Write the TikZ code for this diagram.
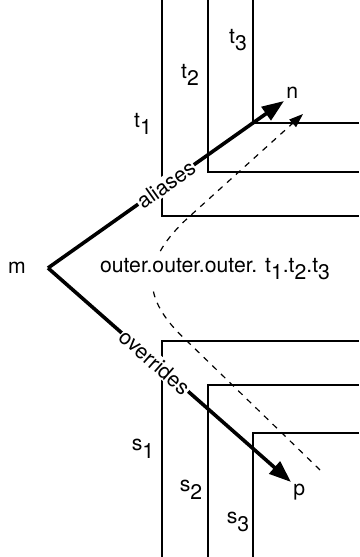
\documentclass[tikz,border=0pt]{standalone}
\usepackage{fontspec}
\setmainfont{TeX Gyre Heros}
\usepackage{tikz}
\usetikzlibrary{positioning}
\usetikzlibrary{arrows.meta}
\newcommand{\lowsub}[1]{\raisebox{-0.7ex}{#1}}

\begin{document}
\begin{tikzpicture}[x=0.5pt,y=0.5pt,font=\fontsize{10.6}{12.5}\selectfont]
            \useasboundingbox (0,0) rectangle (359,557);
            % nested scopes t_1, t_2, t_3
            \draw[line width=0.8pt] (162,557) |- (359,341);
            \draw[line width=0.8pt] (208,557) |- (359,385);
            \draw[line width=0.8pt] (253,557) |- (359,434);
            % nested scopes s_1, s_2, s_3
            \draw[line width=0.8pt] (162,0) |- (359,216);
            \draw[line width=0.8pt] (208,0) |- (359,172);
            \draw[line width=0.8pt] (253,0) |- (359,124);
            \node (t1) at (143,433) {t\lowsub{1}};
            \node (t2) at (190,482) {t\lowsub{2}};
            \node (t3) at (238,517) {t\lowsub{3}};
            \node (s1) at (143,108) {s\lowsub{1}};
            \node (s2) at (191,67) {s\lowsub{2}};
            \node (s3) at (238,35) {s\lowsub{3}};
            % lookup path
            \coordinate (d0) at (320,87);
            \coordinate (d1) at (303,443);
            \draw[dashed, line width=0.6pt, -{Triangle[length=7pt,width=5pt]}] (d0) -- (187,216) .. controls (140,259) and (140,296) .. (190,341) -- (d1);
            \node[fill=white, inner xsep=1pt, inner ysep=3pt] (path) at (215,288) {outer.outer.outer. t\lowsub{1}.t\lowsub{2}.t\lowsub{3}};
            \node (m) at (17,289) {m};
            \coordinate (o) at (48,289);
            \node[anchor=south west, inner sep=1pt] (n) at (284,456) {n};
            \node[anchor=north west, inner sep=1pt] (p) at (291,75) {p};
            \draw[line width=1.8pt, -{Triangle[length=11pt,width=8pt]}] (o) -- node[sloped, fill=white, inner sep=0.5pt, pos=0.5] {aliases} (n.south west);
            \draw[line width=1.8pt, -{Triangle[length=11pt,width=8pt]}] (o) -- node[sloped, fill=white, inner sep=0.5pt, pos=0.44] {overrides} (p.north west);
        \end{tikzpicture}
\end{document}
